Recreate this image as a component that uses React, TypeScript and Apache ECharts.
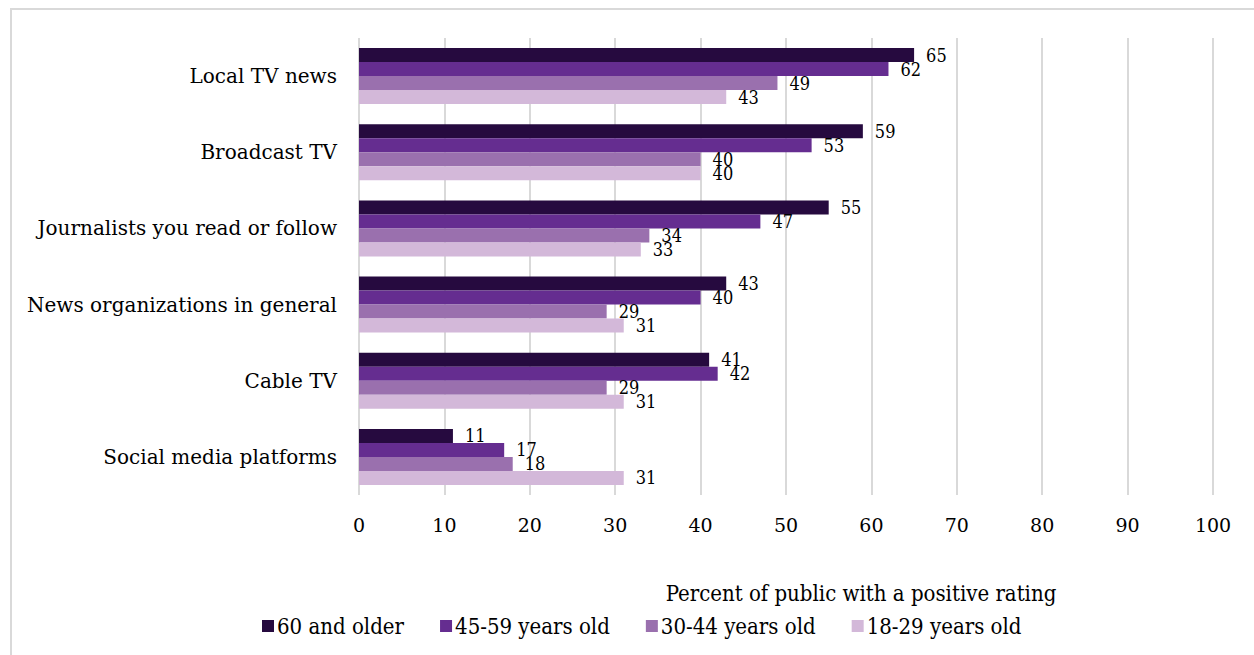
import React, { useEffect, useRef } from "react";
import * as echarts from "echarts";

const categories = [
  "Local TV news",
  "Broadcast TV",
  "Journalists you read or follow",
  "News organizations in general",
  "Cable TV",
  "Social media platforms",
];
const seriesNames = ["60 and older", "45-59 years old", "30-44 years old", "18-29 years old"];
const s60 = [65, 59, 55, 43, 41, 11];
const s45 = [62, 53, 47, 40, 42, 17];
const s30 = [49, 40, 34, 29, 29, 18];
const s18 = [43, 40, 33, 31, 31, 31];
const colors = ["#260a3f", "#652d90", "#9a70ae", "#d3b8d9"];
const xTicks = [0, 10, 20, 30, 40, 50, 60, 70, 80, 90, 100];

const serif = "'DejaVu Serif', serif";
const cond = "'DejaVu Serif Condensed', 'DejaVu Serif', serif";

export default function App() {
  const ref = useRef<HTMLDivElement>(null);
  useEffect(() => {
    document.body.style.margin = "0";
    const chart = echarts.init(ref.current!, undefined, { renderer: "svg" });
    const data = [s60, s45, s30, s18];
    chart.setOption({
      animation: false,
      backgroundColor: "#ffffff",
      grid: { left: 359, right: 41, top: 38, bottom: 160, containLabel: false },
      graphic: [
        {
          type: "rect",
          shape: { x: 11, y: 9, width: 1260, height: 670 },
          style: { fill: "none", stroke: "#d9d9d9", lineWidth: 2 },
          silent: true,
        },
      ],
      legend: {
        left: 257,
        top: 610,
        itemWidth: 12,
        itemHeight: 12,
        itemGap: 36,
        icon: "rect",
        textStyle: { fontFamily: cond, fontSize: 22, color: "#000", padding: [0, 0, 0, -2] },
        data: seriesNames,
      },
      xAxis: {
        type: "value",
        min: 0,
        max: 100,
        interval: 10,
        name: "Percent of public with a positive rating",
        nameLocation: "middle",
        nameGap: 87,
        nameTextStyle: { fontFamily: cond, fontSize: 22, color: "#000", padding: [0, 0, 0, 150] },
        axisLine: { show: false },
        axisTick: { show: false },
        axisLabel: { fontFamily: serif, fontSize: 19, color: "#000", margin: 20 },
        splitLine: { lineStyle: { color: "#d9d9d9", width: 2 } },
      },
      yAxis: {
        type: "category",
        inverse: true,
        data: categories,
        axisLine: { show: false },
        axisTick: { show: false },
        axisLabel: { fontFamily: serif, fontSize: 20, color: "#000", margin: 22 },
      },
      series: seriesNames.map((n, i) => ({
        name: n,
        type: "bar",
        data: data[i],
        barWidth: 14,
        barGap: "0%",
        barCategoryGap: "26%",
        itemStyle: { color: colors[i] },
        label: {
          show: true,
          position: "right",
          distance: 12,
          fontFamily: cond,
          fontSize: 18,
          color: "#000",
        },
      })),
    });
    return () => chart.dispose();
  }, []);
  return <div ref={ref} style={{ width: 1254, height: 655 }} />;
}
